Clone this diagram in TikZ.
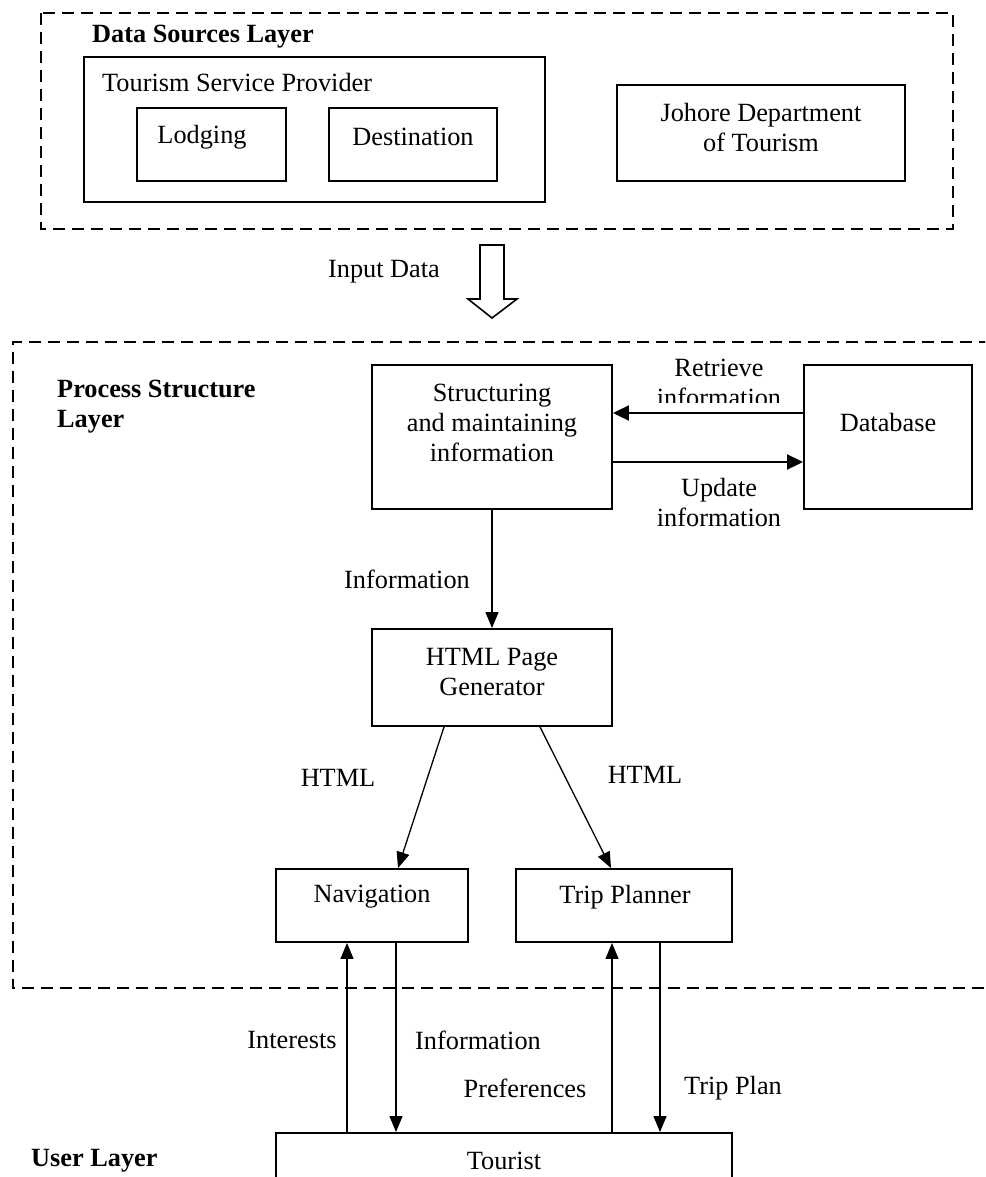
\documentclass[tikz,border=0pt]{standalone}
\usepackage{fontspec}
\setmainfont{Liberation Serif}
\usetikzlibrary{arrows.meta,calc}
\begin{document}
\begin{tikzpicture}[x=1pt,y=-1pt,
  font=\fontsize{26.3}{30}\selectfont,
  box/.style={draw,line width=1.9pt,inner sep=0pt},
  layer/.style={draw,line width=2pt,dash pattern=on 12pt off 7pt},
  txt/.style={inner sep=0pt,align=center},
  ltxt/.style={inner sep=0pt,align=left,anchor=west,font=\fontsize{26.3}{30}\selectfont\bfseries},
  arr/.style={line width=1.3pt,-{Triangle[length=16pt,width=13pt]}},
  barr/.style={line width=2pt,-{Triangle[length=16pt,width=15pt]}}]
\clip (0,0) rectangle (985,1177);
\fill[white] (0,0) rectangle (985,1177);

% ---------- Data sources layer
\draw[layer] (41,13) rectangle (953,229);
\node[ltxt] (dsl) at (92,37) {Data Sources Layer};
\node[box,minimum width=461pt,minimum height=145pt] (tsp) at (314.5,129.5) {};
\node[txt,anchor=west] (tspt) at (102,83) {Tourism Service Provider};
\node[box,minimum width=149pt,minimum height=73pt] (lodg) at (211.5,144.5) {};
\node[txt] (lodgt) at (202,137) {Lodging};
\node[box,minimum width=168pt,minimum height=73pt] (dest) at (413,144.5) {};
\node[txt] (destt) at (413,137) {Destination};
\node[box,minimum width=288pt,minimum height=96pt] (joh) at (761,133) {};
\node[txt] (joht) at (761,128) {Johore Department\\of Tourism};

% ---------- Input data block arrow
\draw[line width=1.6pt,line join=miter] (480,245) -- (504,245) -- (504,299) -- (517,299) -- (492,318) -- (468,299) -- (480,299) -- cycle;
\node[txt] (inp) at (384,272) {Input Data};

% ---------- Process structure layer
\draw[layer] (1010,342) -- (12.6,342) -- (12.6,988) -- (1010,988);
\node[ltxt] (psl) at (57,407) {Process Structure\\Layer};
\node[box,minimum width=240pt,minimum height=144pt] (st) at (492,437) {};
\node[txt] (stt) at (492,423) {Structuring\\and maintaining\\information};
\node[box,minimum width=168pt,minimum height=144pt] (db) at (888,437) {};
\node[txt] (dbt) at (888,423) {Database};
\draw[barr] ([yshift=24pt]db.west) -- ([yshift=24pt]st.east);
\draw[barr] ([yshift=-25pt]st.east) -- ([yshift=-25pt]db.west);
\begin{scope}
  \clip (600,340) rectangle (800,402);
  \node[txt] (ret) at (719,383) {Retrieve\\information};
\end{scope}
\node[txt] (upd) at (719,502) {Update\\information};

\node[box,minimum width=240pt,minimum height=97pt] (html) at (492,677.5) {};
\node[txt] (htmlt) at (492,672) {HTML Page\\Generator};
\draw[arr] (st.south) -- (html.north);
\node[txt] (inf1) at (407,579) {Information};

\node[box,minimum width=192pt,minimum height=73pt] (nav) at (372,905.5) {};
\node[txt] (navt) at (372,897) {Navigation};
\node[box,minimum width=216pt,minimum height=73pt] (trip) at (624,905.5) {};
\node[txt] (tript) at (625,897) {Trip Planner};
\draw[arr] ([xshift=-48pt]html.south) -- ([xshift=26pt]nav.north);
\draw[arr] ([xshift=48pt]html.south) -- ([xshift=-13pt]trip.north);
\node[txt] (h1) at (338,778) {HTML};
\node[txt] (h2) at (645,775) {HTML};

% ---------- User layer
\node[box,minimum width=456pt,minimum height=90pt] (tour) at (504,1178) {};
\node[txt] (tourt) at (504,1161) {Tourist};
\node[ltxt] (usl) at (31,1161) {User Layer};

\coordinate (xa) at (347,0);
\coordinate (xb) at (396,0);
\coordinate (xc) at (612,0);
\coordinate (xd) at (660,0);
\draw[arr] (tour.north -| xa) -- (nav.south -| xa);
\draw[arr] (nav.south -| xb) -- (tour.north -| xb);
\draw[arr] (tour.north -| xc) -- (trip.south -| xc);
\draw[arr] (trip.south -| xd) -- (tour.north -| xd);
\node[txt] (l1) at (292,1040) {Interests};
\node[txt] (l2) at (478,1040) {Information};
\node[txt] (l3) at (525,1088) {Preferences};
\node[txt] (l4) at (733,1088) {Trip Plan};
\end{tikzpicture}
\end{document}
